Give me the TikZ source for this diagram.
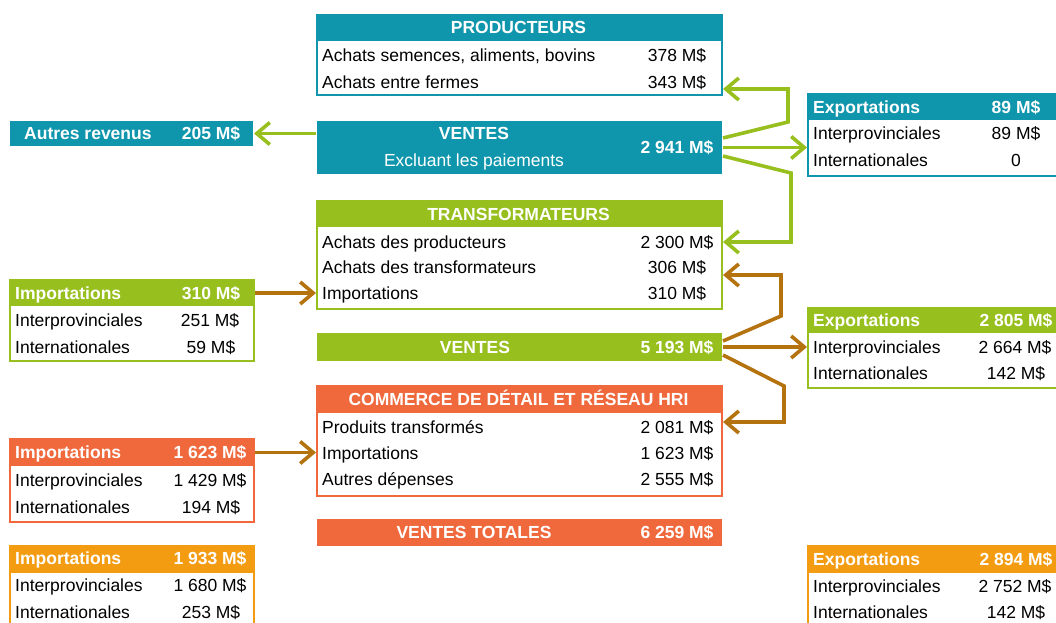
\documentclass[tikz,border=0pt]{standalone}
\usepackage{fontspec}
\setmainfont{Liberation Sans}
\usetikzlibrary{arrows.meta}

\definecolor{tealP}{RGB}{16,150,172}
\definecolor{greenT}{RGB}{151,191,30}
\definecolor{orangeC}{RGB}{240,105,60}
\definecolor{amberG}{RGB}{243,156,18}
\definecolor{brownA}{RGB}{181,115,16}

\tikzset{
  box/.style={draw=#1, line width=2pt, fill=white, anchor=north west, inner sep=0pt},
  band/.style={fill=#1, anchor=north west, inner sep=0pt, outer sep=1pt},
  txt/.style={anchor=west, inner sep=0pt, text height=12.6pt, text depth=0pt,
    font=\fontsize{17.5}{20}\selectfont},
  num/.style={txt, anchor=center},
  htxt/.style={txt, text=white, font=\bfseries\fontsize{17.5}{20}\selectfont},
  hnum/.style={htxt, anchor=center},
  flow/.style={draw=#1, line width=3.6pt,
    -{Straight Barb[length=13pt, width=22pt, line width=3.6pt]}}
}

\begin{document}
\begin{tikzpicture}[x=1pt, y=-1pt]
    \clip (0,0) rectangle (1056,622);

    % producteurs
    \node[box=tealP, minimum width=405pt, minimum height=80pt] (prod) at (316,14) {};
    \node[band=tealP, minimum width=405pt, minimum height=26pt] (prod-h) at (316,14) {};
    \node[hnum] (prod-t) at (518.5,27) {PRODUCTEURS};
    \node[txt] (prod-l1) at (322,55) {Achats semences, aliments, bovins};
    \node[num] (prod-v1) at (677,55) {378 M\$};
    \node[txt] (prod-l2) at (322,82) {Achats entre fermes};
    \node[num] (prod-v2) at (677,82) {343 M\$};

    \node[band=tealP, minimum width=405pt, minimum height=53pt] (ventesP) at (316,120) {};
    \node[hnum] (ventesP-t) at (474,133) {VENTES};
    \node[num, text=white] (ventesP-s) at (474,160) {Excluant les paiements};
    \node[hnum] (ventesP-v) at (677,147) {2 941 M\$};

    \node[band=tealP, minimum width=243pt, minimum height=25pt] (autres) at (9,120) {};
    \node[htxt] (autres-t) at (24,133) {Autres revenus};
    \node[hnum] (autres-v) at (211,133) {205 M\$};

    \node[box=tealP, minimum width=255pt, minimum height=82pt] (expP) at (807,93) {};
    \node[band=tealP, minimum width=255pt, minimum height=26pt] (expP-h) at (807,93) {};
    \node[htxt] (expP-t) at (813,107) {Exportations};
    \node[hnum] (expP-v) at (1016,107) {89 M\$};
    \node[txt] (expP-l1) at (813,133) {Interprovinciales};
    \node[num] (expP-v1) at (1016,133) {89 M\$};
    \node[txt] (expP-l2) at (813,160) {Internationales};
    \node[num] (expP-v2) at (1016,160) {0};

    % transformateurs
    \node[box=greenT, minimum width=405pt, minimum height=108pt] (transf) at (316,200) {};
    \node[band=greenT, minimum width=405pt, minimum height=26pt] (transf-h) at (316,200) {};
    \node[hnum] (transf-t) at (518.5,214) {TRANSFORMATEURS};
    \node[txt] (transf-l1) at (322,242) {Achats des producteurs};
    \node[num] (transf-v1) at (677,242) {2 300 M\$};
    \node[txt] (transf-l2) at (322,267) {Achats des transformateurs};
    \node[num] (transf-v2) at (677,267) {306 M\$};
    \node[txt] (transf-l3) at (322,293) {Importations};
    \node[num] (transf-v3) at (677,293) {310 M\$};

    \node[band=greenT, minimum width=405pt, minimum height=28pt] (ventesT) at (316,332) {};
    \node[hnum] (ventesT-t) at (475,347) {VENTES};
    \node[hnum] (ventesT-v) at (677,347) {5 193 M\$};

    \node[box=greenT, minimum width=244pt, minimum height=81pt] (impT) at (9,279) {};
    \node[band=greenT, minimum width=244pt, minimum height=26pt] (impT-h) at (9,279) {};
    \node[htxt] (impT-t) at (15,293) {Importations};
    \node[hnum] (impT-v) at (211,293) {310 M\$};
    \node[txt] (impT-l1) at (15,320) {Interprovinciales};
    \node[num] (impT-v1) at (210,320) {251 M\$};
    \node[txt] (impT-l2) at (15,347) {Internationales};
    \node[num] (impT-v2) at (211,347) {59 M\$};

    \node[box=greenT, minimum width=255pt, minimum height=80pt] (expT) at (807,307) {};
    \node[band=greenT, minimum width=255pt, minimum height=25pt] (expT-h) at (807,307) {};
    \node[htxt] (expT-t) at (813,320) {Exportations};
    \node[hnum] (expT-v) at (1016,320) {2 805 M\$};
    \node[txt] (expT-l1) at (813,347) {Interprovinciales};
    \node[num] (expT-v1) at (1015,347) {2 664 M\$};
    \node[txt] (expT-l2) at (813,373) {Internationales};
    \node[num] (expT-v2) at (1016,373) {142 M\$};

    % commerce de detail
    \node[box=orangeC, minimum width=405pt, minimum height=110pt] (comm) at (316,385) {};
    \node[band=orangeC, minimum width=405pt, minimum height=27pt] (comm-h) at (316,385) {};
    \node[hnum] (comm-t) at (518.5,399) {COMMERCE DE DÉTAIL ET RÉSEAU HRI};
    \node[txt] (comm-l1) at (322,427) {Produits transformés};
    \node[num] (comm-v1) at (677,427) {2 081 M\$};
    \node[txt] (comm-l2) at (322,453) {Importations};
    \node[num] (comm-v2) at (677,453) {1 623 M\$};
    \node[txt] (comm-l3) at (322,479) {Autres dépenses};
    \node[num] (comm-v3) at (677,479) {2 555 M\$};

    \node[band=orangeC, minimum width=405pt, minimum height=27pt] (totales) at (316,518) {};
    \node[hnum] (totales-t) at (474,532) {VENTES TOTALES};
    \node[hnum] (totales-v) at (677,532) {6 259 M\$};

    \node[box=orangeC, minimum width=244pt, minimum height=83pt] (impC) at (9,438) {};
    \node[band=orangeC, minimum width=244pt, minimum height=27pt] (impC-h) at (9,438) {};
    \node[htxt] (impC-t) at (15,452) {Importations};
    \node[hnum] (impC-v) at (210,452) {1 623 M\$};
    \node[txt] (impC-l1) at (15,480) {Interprovinciales};
    \node[num] (impC-v1) at (210,480) {1 429 M\$};
    \node[txt] (impC-l2) at (15,507) {Internationales};
    \node[num] (impC-v2) at (211,507) {194 M\$};

    % totaux
    \node[box=amberG, minimum width=244pt, minimum height=90pt] (impG) at (9,545) {};
    \node[band=amberG, minimum width=244pt, minimum height=27pt] (impG-h) at (9,545) {};
    \node[htxt] (impG-t) at (15,558) {Importations};
    \node[hnum] (impG-v) at (210,558) {1 933 M\$};
    \node[txt] (impG-l1) at (15,585) {Interprovinciales};
    \node[num] (impG-v1) at (210,585) {1 680 M\$};
    \node[txt] (impG-l2) at (15,612) {Internationales};
    \node[num] (impG-v2) at (211,612) {253 M\$};

    \node[box=amberG, minimum width=255pt, minimum height=90pt] (expG) at (807,545) {};
    \node[band=amberG, minimum width=255pt, minimum height=27pt] (expG-h) at (807,545) {};
    \node[htxt] (expG-t) at (813,559) {Exportations};
    \node[hnum] (expG-v) at (1016,559) {2 894 M\$};
    \node[txt] (expG-l1) at (813,586) {Interprovinciales};
    \node[num] (expG-v1) at (1015,586) {2 752 M\$};
    \node[txt] (expG-l2) at (813,612) {Internationales};
    \node[num] (expG-v2) at (1016,612) {142 M\$};

    % flux
    \draw[flow=greenT] (ventesP.west |- autres.east) -- (autres.east);
    \draw[flow=greenT] ([yshift=9.5pt]ventesP.east) -- (788,122) |- ([yshift=-34pt]prod.east);
    \draw[flow=greenT] (ventesP.east) -- (expP.west |- ventesP.east);
    \draw[flow=greenT] ([yshift=-8.5pt]ventesP.east) -- (791,173) |- ([yshift=13pt]transf.east);

    \draw[flow=brownA] ([yshift=6pt]ventesT.east) -- (781,316) |- ([yshift=-20pt]transf.east);
    \draw[flow=brownA] (ventesT.east) -- (expT.west |- ventesT.east);
    \draw[flow=brownA] ([yshift=-8pt]ventesT.east) -- (784,386) |- ([yshift=19pt]comm.east);

    \draw[flow=brownA] (impT-h.east) -- (transf.west |- impT-h.east);
    \draw[flow=brownA] (impC-h.east) -- (comm.west |- impC-h.east);
\end{tikzpicture}
\end{document}
